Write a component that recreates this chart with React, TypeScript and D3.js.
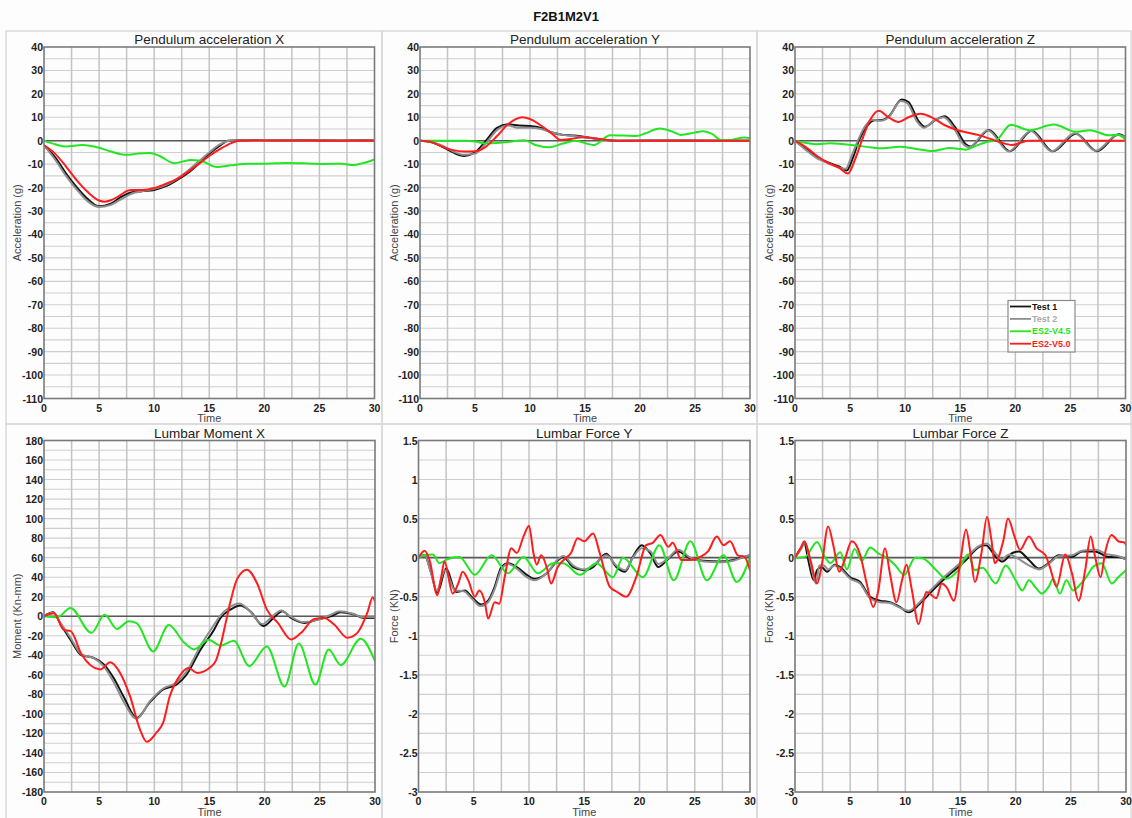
import React from 'react';
import * as d3 from 'd3';

type Pt = [number, number];

// ---------- tick labels ----------
const TIME_TICKS = [0, 5, 10, 15, 20, 25, 30];
const ACC_TICKS = [40, 30, 20, 10, 0, -10, -20, -30, -40, -50, -60, -70, -80, -90, -100, -110];
const MOMENT_TICKS = [180, 160, 140, 120, 100, 80, 60, 40, 20, 0, -20, -40, -60, -80, -100, -120, -140, -160, -180];
const FORCE_TICKS = [1.5, 1, 0.5, 0, -0.5, -1, -1.5, -2, -2.5, -3];

const SERIES_NAMES = ['Test 1', 'Test 2', 'ES2-V4.5', 'ES2-V5.0'];
const SERIES_COLORS = ['#141414', '#8e8e8e', '#22e622', '#ff1c1c'];
const LEGEND_TEXT_COLORS = ['#111111', '#a8a8a8', '#22e622', '#ff1c1c'];

// ---------- Pendulum acceleration X ----------
const accX_test1: Pt[] = [[0,-2],[1,-7],[2,-14],[3,-20],[4,-25],[5,-28],[6,-27],[7,-24],[8,-22],[9,-21.5],[10,-21],[11,-19.5],[12,-17],[13,-14],[14,-10],[15,-5.5],[16,-2],[16.7,0],[18,0.2],[20,0.3],[22,0.2],[24,0.3],[26,0.2],[28,0.3],[30,0.1]];
const accX_test2: Pt[] = [[0,-2],[1,-8],[2,-15],[3,-21],[4,-26],[5,-28.3],[6,-27.5],[7,-25],[8,-22.5],[9,-21.5],[10,-20.5],[11,-19],[12,-16.5],[13,-13],[14,-9],[15,-5],[16,-1.5],[16.8,0],[18,0.2],[21,0.3],[24,0.2],[27,0.3],[30,0.1]];
const accX_v45: Pt[] = [[0,0],[1,-1.5],[2,-2.5],[3.5,-1.8],[5,-3],[6,-4.5],[7.5,-6],[8.5,-5.5],[9.6,-5.2],[10.5,-6.5],[11.8,-9.6],[13.3,-8.2],[14.2,-8.5],[15.7,-11.2],[17,-10.5],[18.5,-9.8],[20,-9.8],[22,-9.5],[24,-9.7],[25.5,-9.9],[27,-9.8],[28.1,-10.4],[29,-9.5],[30,-8]];
const accX_v50: Pt[] = [[0,-2],[1,-5.5],[2,-11],[3,-17],[4,-22],[5,-25.5],[5.5,-26],[6,-25.5],[7,-23],[7.5,-21.5],[8,-21],[9,-21],[10,-20.2],[11,-18.5],[12,-16.5],[13,-13.5],[14,-10],[15,-6.5],[16,-3.5],[17,-1],[17.7,0],[20,0.1],[25,0],[30,0]];

// ---------- Pendulum acceleration Y ----------
const accY_test1: Pt[] = [[0,0],[1,-0.5],[2,-2.5],[3,-5],[4,-6.5],[5,-5],[6,0],[7,5.5],[8,7],[9,6.5],[10,6.3],[11,5.5],[12,3.5],[13,2.5],[14,2.2],[15,1.6],[16,0.8],[17,0.3],[18,0],[24,0.1],[30,0]];
const accY_test2: Pt[] = [[0,0],[1,-0.5],[2,-2],[3,-4.5],[4,-6],[5,-5.5],[6,-1],[7,4.5],[8,6.5],[9,5.5],[10,5.5],[11,5],[12,3.5],[13,2.5],[14,2],[15,1.5],[16,0.8],[17,0.3],[18,0],[30,0]];
const accY_v45: Pt[] = [[0,0],[4,0],[5,-0.3],[6,-1.2],[7,-1],[8,-0.5],[9.5,0.2],[10.5,-1.8],[11.7,-2.8],[13,-1.2],[14.1,0],[15.8,-1.8],[17.3,2.3],[18.5,2.2],[19.7,2],[20.5,3.2],[21.8,5.2],[23,3.8],[23.7,2.5],[25,3.5],[25.7,4],[26.5,3],[27.5,0],[28.3,0.3],[29.5,1.4],[30,1]];
const accY_v50: Pt[] = [[0,0],[1,-0.5],[2,-2.5],[3,-4],[4,-4.6],[5,-4.5],[6,-2.5],[7,2],[8,7],[9.3,10],[10,9.3],[11,6.5],[12,3],[12.8,0.3],[13.5,0.6],[14.8,1.5],[16,1],[17,0.3],[18,0],[30,0]];

// ---------- Pendulum acceleration Z ----------
const accZ_test1: Pt[] = [[0,0],[1,-3.5],[2,-7],[3,-9.3],[4,-11],[4.7,-12.7],[5.2,-8],[5.8,0],[6.5,6],[7.2,8.7],[7.9,8.8],[8.5,10.3],[9.7,17.6],[10.3,16.5],[11.2,8.5],[11.8,6],[12.7,8.7],[13.6,10.5],[14.5,6],[15.5,-1.5],[15.9,-2.5],[17.6,4.6],[19.5,-4.5],[21.5,4.3],[23.4,-4.5],[25.5,3],[27.4,-4.5],[29.4,2.8],[30,1.5]];
const accZ_test2: Pt[] = [[0,0],[1,-4],[2,-7.5],[3,-9.5],[4,-11.5],[4.6,-12],[5.1,-7],[5.7,0],[6.4,6.5],[7.1,9],[7.8,8.5],[8.5,10],[9.6,17],[10.2,16],[11.1,8],[11.7,5.5],[12.6,8.5],[13.5,10],[14.4,5.5],[15.4,-2],[15.8,-2.8],[17.5,4.5],[19.4,-4.5],[21.4,4.2],[23.3,-4.5],[25.4,3.2],[27.3,-4.3],[29.3,2.6],[30,1.5]];
const accZ_v45: Pt[] = [[0,0],[2,-1.5],[3.2,-1.1],[5.5,-2],[7,-2.9],[8,-3.2],[9.5,-2.6],[11,-3.5],[12.5,-4.4],[14,-3.1],[15.5,-3.8],[16.5,-2],[17.5,-0.4],[18.2,0],[19.6,6.8],[21.3,4.5],[23.5,6.9],[25.5,3.8],[26.8,4.5],[28.5,2.3],[29.3,2.6],[30,0.5]];
const accZ_v50: Pt[] = [[0,0],[1,-2.8],[2,-6.5],[3,-9.5],[4,-11.5],[4.8,-14],[5.45,-8],[6.06,0],[6.8,8.7],[7.6,12.8],[8.5,10],[9.4,8],[10.3,10],[11.4,11.5],[12.4,10],[13.6,6.6],[14.8,4.5],[16.7,2.4],[18.5,-0.4],[19.7,-1.8],[21.2,0],[22,0],[30,0]];

// ---------- Lumbar Moment X ----------
const momX_test1: Pt[] = [[0,0],[0.85,4],[1.45,-7],[2.4,-24],[3.4,-40],[4.5,-42.6],[5.4,-49],[6.3,-63],[7.2,-82],[8.4,-104],[9.6,-88],[10.8,-75],[12,-70],[12.9,-60],[14.2,-34],[15.4,-14],[16,-1.7],[16.9,6.8],[17.8,11],[18.7,5],[19.9,-10],[20.8,-1.7],[21.6,5],[22.4,-1.7],[23.6,-6.8],[24.8,-3.4],[26,0],[26.9,4],[28.1,1.7],[29,-1.7],[30,-1.7]];
const momX_test2: Pt[] = [[0,0],[0.85,3.5],[1.45,-6],[2.4,-22],[3.4,-39],[4.5,-43],[5.4,-51],[6.3,-67],[7.2,-87],[8.4,-105],[9.6,-87],[10.8,-74],[12,-68],[12.9,-57],[14.2,-30],[15.4,-9],[16,1],[16.8,9],[17.7,13],[18.6,6],[19.8,-8],[20.7,0],[21.5,6],[22.3,0],[23.5,-6],[24.7,-4],[25.9,1],[26.8,5],[28,2.5],[28.9,-1],[30,-1]];
const momX_v45: Pt[] = [[0,0],[1.2,-1],[2.4,8.5],[4.3,-17],[5.5,1.5],[6.6,-13],[7.7,-5],[8.4,-7],[9.9,-36],[11.3,-9],[12.7,-27],[13.6,-34],[14.9,-24],[16,-30],[17.2,-25],[18.6,-51],[20.2,-31],[21.8,-72],[23.1,-28],[24.6,-70],[25.8,-34],[26.9,-50],[28.7,-23],[30,-46]];
const momX_v50: Pt[] = [[0,0],[0.9,3],[1.8,-14],[2.4,-15],[3.4,-39],[5.1,-54.5],[6,-47],[6.9,-58],[7.8,-82],[8.7,-116],[9.3,-128.6],[10.2,-119],[10.8,-109],[11.4,-82],[12.3,-61],[13.1,-53],[13.9,-58],[15.1,-52],[15.6,-45],[16,-30],[16.5,-5],[16.9,15],[17.5,38],[18.4,47.6],[19.3,34],[20.2,6.8],[21.2,-6.8],[22.4,-23.8],[23.3,-17],[24.5,-2.7],[25.4,-1.7],[26.3,-8.5],[27.5,-22],[28.4,-17],[29.3,3.4],[29.8,19.4],[30,15]];

// ---------- Lumbar Force Y ----------
const fY_test1: Pt[] = [[0,0],[0.55,0.03],[1.15,-0.2],[1.7,-0.45],[2.5,-0.14],[3.4,-0.44],[4.2,-0.42],[4.8,-0.5],[5.7,-0.6],[6.3,-0.55],[6.9,-0.37],[7.5,-0.12],[8.1,-0.07],[8.9,-0.12],[9.8,-0.22],[10.5,-0.27],[11.6,-0.2],[12.5,-0.05],[13.1,0.01],[14,-0.12],[15,-0.16],[15.8,-0.12],[17,0.05],[17.9,-0.12],[18.7,-0.18],[19.4,0.01],[20.2,0.16],[21,0.05],[21.7,-0.12],[22.5,-0.03],[23.5,0.08],[24.6,-0.01],[25.8,-0.04],[27.3,-0.05],[28.5,-0.03],[29.7,0.02],[30,0.03]];
const fY_test2: Pt[] = [[0,0],[0.55,0.03],[1.1,-0.18],[1.65,-0.42],[2.4,-0.16],[3.3,-0.42],[4.1,-0.43],[4.8,-0.52],[5.6,-0.62],[6.3,-0.57],[6.9,-0.4],[7.5,-0.15],[8.1,-0.08],[8.9,-0.14],[9.8,-0.25],[10.5,-0.29],[11.6,-0.2],[12.5,-0.04],[13.1,0.02],[14,-0.1],[15,-0.15],[15.8,-0.1],[17,0.03],[17.9,-0.1],[18.7,-0.16],[19.4,0],[20.2,0.12],[21,0.08],[21.7,-0.08],[22.5,-0.02],[23.5,0.1],[24.6,0],[25.8,-0.05],[27.3,-0.06],[28.5,-0.04],[29.7,0.02],[30,0.03]];
const fY_v45: Pt[] = [[0,0],[0.55,0.03],[1.3,0.04],[1.9,-0.07],[2.6,-0.02],[3.7,0.01],[5.1,-0.22],[6.6,0.03],[8.1,-0.2],[9.5,0.01],[10.8,-0.2],[12.2,-0.07],[13.1,-0.07],[14.6,-0.22],[16.1,-0.07],[17.6,-0.25],[18.5,0],[20.3,-0.25],[21.8,0.16],[23.1,-0.29],[24.6,0.21],[26.1,-0.29],[27.6,0.03],[28.8,-0.31],[30,0]];
const fY_v50: Pt[] = [[0,0],[0.55,0.09],[1,-0.03],[1.7,-0.48],[2.05,-0.25],[2.35,-0.05],[3.1,-0.46],[3.6,-0.33],[4,-0.18],[4.5,-0.29],[5.1,-0.5],[5.5,-0.42],[6,-0.57],[6.3,-0.78],[6.9,-0.57],[7.3,-0.59],[7.8,-0.25],[8.4,0.12],[8.9,0.06],[9.5,0.27],[10,0.41],[10.4,0.06],[10.7,-0.09],[11.1,0.03],[11.6,-0.12],[12,-0.33],[12.6,-0.12],[13.2,-0.02],[13.8,0.06],[14.4,0.25],[15,0.21],[15.8,0.31],[16.4,0.06],[17.3,-0.37],[18,-0.44],[18.8,-0.5],[19.7,-0.25],[20.6,0.16],[21.2,0.19],[21.9,0.29],[22.6,0.14],[23,0.19],[23.8,-0.03],[24.6,-0.03],[25.5,0.01],[26.2,0.08],[27,0.27],[27.6,0.16],[28.2,0.21],[28.9,0.03],[29.5,0.01],[30,-0.16]];

// ---------- Lumbar Force Z ----------
const fZ_test1: Pt[] = [[0,0],[0.6,0.14],[0.85,0.19],[1.2,-0.03],[1.7,-0.29],[2,-0.16],[2.4,-0.12],[2.9,-0.18],[3.6,-0.09],[4.1,-0.12],[5,-0.25],[5.9,-0.31],[6.8,-0.5],[7.7,-0.55],[8.6,-0.57],[9.5,-0.63],[10.3,-0.7],[11.3,-0.59],[12.2,-0.46],[13.1,-0.33],[14.3,-0.18],[15.5,-0.03],[16.7,0.14],[17.3,0.16],[18.2,0.01],[18.8,-0.05],[19.7,0.06],[20.3,0.08],[21.2,-0.03],[22.1,-0.14],[23,-0.07],[23.9,0.03],[25.1,0.01],[26,0.08],[27.2,0.08],[28.4,0.01],[29.3,0.01],[30,-0.02]];
const fZ_test2: Pt[] = [[0,0],[0.6,0.12],[0.9,0.2],[1.3,0],[1.9,-0.33],[2.2,-0.1],[2.6,-0.1],[3,-0.15],[3.6,-0.1],[4.1,-0.14],[5,-0.27],[5.9,-0.33],[6.8,-0.52],[7.7,-0.57],[8.6,-0.58],[9.5,-0.64],[10.3,-0.68],[11.3,-0.57],[12.2,-0.43],[13.1,-0.3],[14.3,-0.15],[15.5,0],[16.7,0.15],[17.4,0.18],[18.2,0.05],[18.7,-0.02],[19.4,0.04],[20.3,-0.02],[21.2,-0.1],[22.1,-0.15],[23,-0.08],[23.9,0.02],[25.1,0.03],[26,0.09],[27.2,0.1],[28.4,0.04],[29.3,0.02],[30,-0.02]];
const fZ_v45: Pt[] = [[0,0],[0.9,0.01],[2,0.2],[2.7,0.01],[3.2,-0.07],[4.1,0.07],[4.7,-0.15],[5.4,0.11],[6.05,-0.04],[6.8,0.13],[7.6,0.05],[8.3,0],[9.1,-0.1],[9.9,-0.22],[10.9,0],[11.6,-0.01],[12.8,-0.16],[13.7,-0.27],[14.8,-0.16],[15.7,0.04],[16.3,-0.16],[17,-0.13],[18.2,-0.33],[19.1,-0.1],[20,-0.29],[20.6,-0.42],[21.2,-0.29],[21.8,-0.38],[22.4,-0.46],[23,-0.37],[23.4,-0.27],[24,-0.46],[24.6,-0.29],[25.2,-0.42],[25.8,-0.35],[26.4,-0.25],[27,-0.12],[27.8,-0.07],[28.7,-0.33],[29.3,-0.25],[30,-0.16]];
const fZ_v50: Pt[] = [[0,0],[0.5,0.12],[0.85,0.21],[1.4,-0.03],[2,-0.33],[2.4,-0.12],[3,0.4],[3.5,0.14],[4,-0.18],[4.5,-0.03],[5.14,0.21],[5.9,0.04],[6.5,-0.33],[7.1,-0.63],[7.55,-0.42],[8.16,0.12],[8.6,-0.2],[9.2,-0.57],[9.7,-0.29],[10.1,-0.09],[10.6,-0.42],[11.2,-0.85],[11.9,-0.44],[12.3,-0.47],[12.8,-0.52],[13.3,-0.33],[13.75,-0.38],[14.4,-0.55],[15,-0.03],[15.5,0.36],[15.9,0.06],[16.3,-0.31],[16.9,0.06],[17.4,0.52],[17.8,0.23],[18.1,-0.07],[18.9,0.23],[19.3,0.5],[19.9,0.27],[20.4,0.1],[21.2,0.27],[21.9,0.12],[22.7,0.03],[23.1,-0.12],[23.7,-0.37],[24.5,0.04],[25.1,-0.2],[25.7,-0.55],[26.3,-0.16],[26.8,0.27],[27.2,0.01],[27.7,-0.25],[28.1,0.06],[28.7,0.29],[29.3,0.21],[29.9,0.19],[30,0.16]];

// ---------- layout ----------
interface PanelCfg {
  title: string;
  yLabel: string;
  yMin: number;
  yMax: number;
  ticks: number[];
  gridStep: number;
  series: Pt[][];
  frame: [number, number, number, number];
  plot: [number, number, number, number];
  yLabelX: number;
  legend?: boolean;
}

const FONT = '"Liberation Sans", Arial, Helvetica, sans-serif';
const TOP: [number, number] = [47, 398.5];
const BOT: [number, number] = [440.5, 792];

const PANELS: PanelCfg[] = [
  { title: 'Pendulum acceleration X', yLabel: 'Acceleration (g)', yMin: -110, yMax: 40, ticks: ACC_TICKS, gridStep: 5,
    series: [accX_test1, accX_test2, accX_v45, accX_v50], frame: [6, 31, 382, 424], plot: [44, TOP[0], 374.5, TOP[1]], yLabelX: 17 },
  { title: 'Pendulum acceleration Y', yLabel: 'Acceleration (g)', yMin: -110, yMax: 40, ticks: ACC_TICKS, gridStep: 5,
    series: [accY_test1, accY_test2, accY_v45, accY_v50], frame: [382, 31, 757, 424], plot: [420, TOP[0], 750, TOP[1]], yLabelX: 394 },
  { title: 'Pendulum acceleration Z', yLabel: 'Acceleration (g)', yMin: -110, yMax: 40, ticks: ACC_TICKS, gridStep: 5,
    series: [accZ_test1, accZ_test2, accZ_v45, accZ_v50], frame: [757, 31, 1131, 424], plot: [795, TOP[0], 1125.5, TOP[1]], yLabelX: 769, legend: true },
  { title: 'Lumbar Moment X', yLabel: 'Moment (Kn-mm)', yMin: -180, yMax: 180, ticks: MOMENT_TICKS, gridStep: 10,
    series: [momX_test1, momX_test2, momX_v45, momX_v50], frame: [6, 424, 382, 830], plot: [44, BOT[0], 375, BOT[1]], yLabelX: 17 },
  { title: 'Lumbar Force Y', yLabel: 'Force (KN)', yMin: -3, yMax: 1.5, ticks: FORCE_TICKS, gridStep: 0.25,
    series: [fY_test1, fY_test2, fY_v45, fY_v50], frame: [382, 424, 757, 830], plot: [418.5, BOT[0], 750, BOT[1]], yLabelX: 394 },
  { title: 'Lumbar Force Z', yLabel: 'Force (KN)', yMin: -3, yMax: 1.5, ticks: FORCE_TICKS, gridStep: 0.25,
    series: [fZ_test1, fZ_test2, fZ_v45, fZ_v50], frame: [757, 424, 1131, 830], plot: [795, BOT[0], 1126, BOT[1]], yLabelX: 769 },
];

function Panel({ p, idx }: { p: PanelCfg; idx: number }) {
  const [fx0, fy0, fx1, fy1] = p.frame;
  const [px0, py0, px1, py1] = p.plot;
  const x = d3.scaleLinear().domain([0, 30]).range([px0, px1]);
  const y = d3.scaleLinear().domain([p.yMin, p.yMax]).range([py1, py0]);
  const line = d3.line<Pt>().x(d => x(d[0])).y(d => y(d[1])).curve(d3.curveMonotoneX);
  const vGrid = d3.range(1, 12).map(i => i * 2.5);
  const nH = Math.round((p.yMax - p.yMin) / p.gridStep);
  const hGrid = d3.range(1, nH).map(i => p.yMin + i * p.gridStep);
  const clipId = `clip-${idx}`;
  const cx = (px0 + px1) / 2;
  const cy = (py0 + py1) / 2;
  return (
    <g>
      <rect x={fx0} y={fy0} width={fx1 - fx0} height={fy1 - fy0} fill="none" stroke="#dadada" strokeWidth={1.5} />
      <defs>
        <clipPath id={clipId}>
          <rect x={px0} y={py0} width={px1 - px0} height={py1 - py0} />
        </clipPath>
      </defs>
      {hGrid.map(v => (
        <line key={'h' + v} x1={px0} x2={px1} y1={y(v)} y2={y(v)} stroke="#cfcfcf" strokeWidth={1.1} />
      ))}
      {vGrid.map(v => (
        <line key={'v' + v} x1={x(v)} x2={x(v)} y1={py0} y2={py1} stroke="#c4c4c4" strokeWidth={1.5} />
      ))}
      <line x1={px0} x2={px1} y1={y(0)} y2={y(0)} stroke="#5a5a5a" strokeWidth={1.6} />
      <g clipPath={`url(#${clipId})`}>
        {p.series.map((s, i) => (
          <path key={i} d={line(s) || ''} fill="none" stroke={SERIES_COLORS[i]} strokeWidth={2} strokeLinejoin="round" strokeLinecap="round" />
        ))}
      </g>
      <rect x={px0} y={py0} width={px1 - px0} height={py1 - py0} fill="none" stroke="#7a7a7a" strokeWidth={1.6} />
      {p.ticks.map(t => (
        <text key={'yt' + t} x={px0 - 1} y={y(t)} textAnchor="end" dominantBaseline="central"
          fontFamily={FONT} fontSize={10.5} fontWeight="bold" fill="#222">{String(t)}</text>
      ))}
      {TIME_TICKS.map(t => (
        <text key={'xt' + t} x={x(t)} y={py1 + 9} textAnchor="middle" dominantBaseline="central"
          fontFamily={FONT} fontSize={10.5} fontWeight="bold" fill="#222">{String(t)}</text>
      ))}
      <text x={cx} y={py1 + 19.5} textAnchor="middle" dominantBaseline="central" fontFamily={FONT} fontSize={11} fill="#444">Time</text>
      <text x={cx} y={py0 - 7.5} textAnchor="middle" dominantBaseline="central" fontFamily={FONT} fontSize={13.5} fill="#222">{p.title}</text>
      <text transform={`translate(${p.yLabelX},${cy}) rotate(-90)`} textAnchor="middle" dominantBaseline="central"
        fontFamily={FONT} fontSize={11} fill="#444">{p.yLabel}</text>
      {p.legend && (
        <g>
          <rect x={1008} y={300.5} width={67} height={51.5} fill="#ffffff" stroke="#8a8a8a" strokeWidth={1.2} />
          {SERIES_NAMES.map((name, i) => {
            const ly = 306.5 + i * 12.4;
            return (
              <g key={name}>
                <line x1={1010} x2={1031} y1={ly} y2={ly} stroke={SERIES_COLORS[i]} strokeWidth={1.8} />
                <text x={1032} y={ly} dominantBaseline="central" fontFamily={FONT} fontSize={9} fontWeight="bold"
                  fill={LEGEND_TEXT_COLORS[i]}>{name}</text>
              </g>
            );
          })}
        </g>
      )}
    </g>
  );
}

export default function App() {
  return (
    <svg width={1132} height={818} viewBox="0 0 1132 818"
      style={{ position: 'absolute', left: 0, top: 0, background: '#ffffff' }}>
      <rect x={0} y={0} width={1132} height={818} fill="#fdfdfd" />
      <text x={566} y={16} textAnchor="middle" dominantBaseline="central" fontFamily={FONT} fontSize={13} fontWeight="bold" fill="#111">F2B1M2V1</text>
      {PANELS.map((p, i) => <Panel key={i} p={p} idx={i} />)}
    </svg>
  );
}
